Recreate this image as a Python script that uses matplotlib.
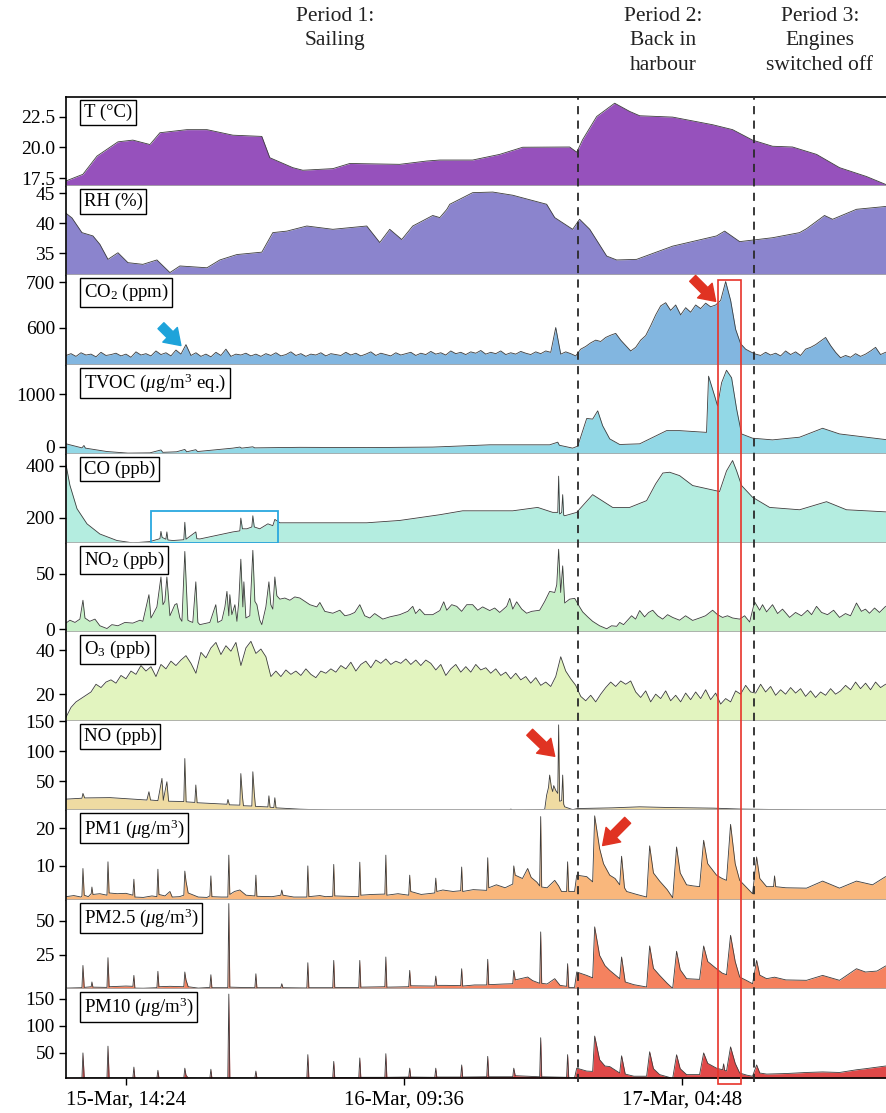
import numpy as np
import matplotlib.pyplot as plt
import matplotlib.transforms as mtransforms
from matplotlib.patches import Rectangle, FancyArrowPatch
from matplotlib.lines import Line2D

plt.rcParams['font.family'] = ['Liberation Serif', 'DejaVu Serif']
plt.rcParams['mathtext.fontset'] = 'custom'
plt.rcParams['mathtext.rm'] = 'Liberation Serif'
plt.rcParams['mathtext.it'] = 'Liberation Serif:italic'

# time in hours since 15-Mar 00:00
t_start, t_end = 10.26, 66.89
t_grid = np.linspace(t_start, t_end, 165)

t_T = [10.26, 11.43, 12.40, 13.85, 14.88, 16.06, 16.75, 18.61, 20.0, 21.79, 23.79, 24.34,
       25.93, 26.62, 28.70, 29.87, 33.32, 35.19, 36.09, 38.36, 40.23, 41.82, 45.06, 45.55,
       45.96, 46.93, 48.17, 49.21, 49.90, 52.18, 54.94, 56.32, 57.70, 59.08, 60.46, 62.12,
       63.71, 65.57, 66.89]
T = [17.28, 17.82, 19.3, 20.46, 20.6, 20.24, 21.2, 21.45, 21.45, 21.0, 20.9, 19.17,
     18.36, 18.15, 18.28, 18.7, 18.63, 18.9, 18.98, 18.98, 19.44, 20.02, 20.04, 19.62,
     20.64, 22.52, 23.6, 22.93, 22.58, 22.47, 21.85, 21.45, 20.6, 20.1, 20.04, 19.44,
     18.36, 17.64, 17.0]

t_RH = [10.26, 10.67, 11.36, 12.12, 12.60, 13.16, 13.85, 14.54, 15.57, 16.54, 17.44, 18.13,
        20.0, 20.89, 22.07, 23.79, 24.55, 25.52, 26.90, 28.70, 31.04, 31.94, 32.63, 33.46,
        34.22, 35.60, 36.09, 36.57, 36.78, 38.36, 39.75, 41.13, 43.47, 44.03, 45.27, 45.75,
        46.45, 47.62, 48.31, 49.69, 52.18, 55.21, 55.77, 56.81, 59.08, 60.95, 61.43, 62.67,
        63.23, 64.88, 66.89]
RH = [41.67, 40.9, 38.45, 37.9, 36.5, 34.0, 35.1, 33.45, 33.17, 33.9, 31.8, 32.9,
      32.6, 33.9, 34.8, 35.2, 38.45, 38.7, 39.55, 39.0, 39.55, 36.8, 39.0, 37.3,
      39.55, 41.3, 40.95, 42.3, 43.17, 45.1, 45.2, 44.67, 43.17, 40.95, 39.0, 40.67,
      39.0, 34.55, 33.9, 34.0, 36.2, 37.9, 38.7, 36.95, 37.6, 38.45, 39.1, 41.3,
      40.67, 42.33, 42.8]

CO2 = [538, 542, 536, 544, 539, 541, 535, 545, 538, 540,
       543, 537, 541, 534, 546, 539, 542, 537, 548, 540,
       544, 537, 550, 541, 562, 538, 544, 536, 541, 535,
       545, 538, 552, 536, 541, 539, 543, 537, 541, 536,
       542, 538, 544, 537, 540, 546, 538, 542, 536, 541,
       539, 544, 537, 542, 540, 538, 545, 539, 543, 537,
       541, 546, 538, 543, 540, 537, 544, 539, 542, 545,
       538, 543, 540, 547, 541, 544, 539, 548, 542, 545,
       540, 546, 543, 549, 541, 545, 542, 548, 540, 544,
       541, 547, 543, 540, 546, 542, 548, 545, 600, 541,
       546, 542, 537, 552, 558, 566, 572, 569, 578, 583,
       587, 572, 560, 548, 556, 572, 582, 604, 628, 648,
       655, 638, 650, 628, 644, 634, 650, 642, 654, 646,
       650, 660, 702, 660, 596, 564, 552, 546, 541, 538,
       545, 539, 543, 537, 548, 540, 546, 538, 552, 556,
       562, 570, 578, 560, 545, 533, 538, 534, 542, 536,
       541, 548, 556, 540, 545]

t_TVOC = [10.26, 11.36, 11.50, 11.60, 13.09, 14.54, 16.06, 16.82, 16.95, 17.90, 18.47, 18.60,
          19.23, 19.35, 21.79, 22.27, 22.40, 23.17, 23.30, 26.42, 31.04, 35.60, 36.09, 39.54,
          43.68, 44.24, 44.35, 45.27, 45.62, 46.24, 46.65, 47.00, 47.34, 47.83, 48.52, 49.90,
          51.76, 52.66, 54.52, 54.66, 55.08, 55.28, 55.56, 55.90, 56.25, 56.60, 56.94, 57.70,
          59.08, 60.95, 62.54, 63.71, 66.89]
TVOC = [57, -20, 25, -25, -90, -120, -115, -60, -105, -95, -50, -95,
        -55, -90, -25, -5, -25, 0, -20, -10, -15, -5, 0, 38,
        38, 88, 30, -25, 13, 540, 528, 685, 402, 151, 44, 57,
        308, 308, 275, 1345, 968, 779, 1220, 1458, 1315, 717, 245, 164,
        132, 183, 353, 245, 138]

t_CO = [10.26, 10.53, 11.02, 11.71, 12.60, 13.78, 14.88, 16.06, 16.75, 16.82, 16.90, 17.16,
        17.23, 17.30, 17.65, 18.40, 18.47, 18.55, 19.23, 19.30, 19.51, 21.79, 22.27, 22.34,
        22.45, 22.76, 23.10, 23.17, 23.27, 23.65, 24.21, 24.55, 24.69, 25.04, 26.42, 31.04,
        33.32, 36.09, 37.67, 41.13, 42.85, 43.89, 44.24, 44.30, 44.37, 44.51, 44.58, 44.65,
        44.72, 45.55, 46.65, 48.03, 49.21, 50.38, 51.00, 51.50, 51.97, 52.66, 53.56, 55.42,
        55.90, 56.32, 56.60, 56.94, 57.70, 58.88, 60.95, 62.81, 64.19, 66.89]
CO = [404, 325, 235, 177, 138, 113, 104, 109, 120, 148, 125, 118,
      146, 115, 113, 116, 183, 118, 146, 120, 119, 146, 150, 199,
      158, 158, 165, 208, 165, 158, 177, 170, 194, 181, 181, 181,
      190, 212, 227, 227, 240, 221, 221, 360, 215, 220, 289, 210,
      208, 221, 289, 240, 240, 266, 330, 372, 375, 362, 324, 301,
      380, 420, 380, 324, 279, 240, 231, 262, 231, 223]

t_NO2 = [10.26, 10.53, 10.88, 11.22, 11.43, 11.57, 11.90, 12.26, 12.60, 13.09, 13.43, 13.85,
         14.33, 14.88, 15.37, 15.57, 15.99, 16.13, 16.26, 16.54, 16.82, 16.96, 17.09, 17.23,
         17.44, 17.58, 17.78, 17.92, 18.13, 18.27, 18.47, 18.68, 18.82, 19.02, 19.23, 19.37,
         19.51, 19.85, 20.20, 20.61, 20.75, 21.03, 21.24, 21.38, 21.51, 21.58, 21.72, 21.93,
         22.07, 22.20, 22.34, 22.48, 22.55, 22.69, 22.96, 23.17, 23.31, 23.45, 23.65, 23.79,
         24.07, 24.28, 24.41, 24.55, 24.69, 24.83, 25.04, 25.38, 25.73, 26.07, 26.42, 26.76,
         27.11, 27.59, 27.80, 28.14, 28.70, 29.18, 29.53, 29.87, 30.21, 30.56, 30.90, 31.25,
         31.59, 32.15, 32.63, 33.32, 33.88, 34.22, 34.42, 34.70, 35.05, 35.60, 36.09, 36.36,
         36.57, 36.91, 37.26, 37.60, 37.95, 38.36, 38.71, 39.05, 39.54, 39.88, 40.23, 40.71,
         40.92, 41.13, 41.40, 41.75, 42.09, 42.44, 42.99, 43.34, 43.68, 44.03, 44.17, 44.30,
         44.44, 44.58, 44.72, 45.06, 45.41, 45.75, 45.96, 46.31, 46.65, 47.13, 47.62, 47.96,
         48.31, 48.52, 48.79, 49.00, 49.34, 49.62, 49.90, 50.24, 50.52, 50.80, 51.14, 51.49,
         51.83, 52.18, 52.66, 53.07, 53.56, 54.04, 54.45, 54.94, 55.28, 55.63, 55.97, 56.32,
         56.81, 57.15, 57.50, 57.84, 58.19, 58.39, 58.67, 59.08, 59.43, 59.77, 60.26, 60.67,
         61.08, 61.50, 61.78, 62.12, 62.47, 62.88, 63.30, 63.71, 64.12, 64.47, 64.88, 65.22,
         65.50, 65.78, 66.13, 66.47, 66.89]
NO2 = [5.4, 8, 6, 9, 26, 10, 7, 9, 3, 0.5, 4, 3,
       6, 5.4, 8, 7, 31, 10, 13, 20, 47, 22, 25, 47,
       12, 16, 22, 23, 10, 7, 70, 8, 7, 6, 42.6, 6,
       4, 5, 6, 22, 6, 8, 20, 34, 12, 31, 13, 22,
       7, 25, 63, 20, 42.6, 10, 12, 71, 25, 22, 8, 4,
       20, 42.6, 22, 18, 47, 30, 27, 28, 26, 29, 28, 25,
       22, 20, 24, 16, 14.3, 17, 12, 13, 15, 22, 12, 10,
       14, 9, 11, 13, 16, 20.5, 14, 18, 13, 13, 16.7, 24.6,
       17, 22, 20.5, 16, 22, 22, 17, 20, 16.7, 19, 15, 20.5,
       27.7, 18, 24.6, 18, 14.3, 16, 17, 25, 34, 33, 40, 72,
       33, 57, 23.5, 27, 27.7, 20, 15.5, 11, 7, 3, 0.3, 3,
       2.5, 6, 4, 7, 12, 9, 16.7, 11, 15, 17, 12, 9,
       13, 10.5, 8, 12, 7.8, 10, 12, 17, 13, 10.5, 12, 10,
       9, 12, 6.4, 24.6, 17, 22, 15.5, 22, 14, 18, 10.5, 15,
       12, 17, 13, 20.5, 15, 13, 17, 10.5, 14, 12, 23.5, 16,
       18, 14.3, 19, 15, 20.5]

O3 = [9.5, 14.0, 16.5, 18.0, 19.5, 21.0, 24.5, 23.0, 25.5, 26.5,
      25.0, 28.5, 27.0, 30.5, 29.0, 33.0, 30.5, 32.5, 28.0, 33.5,
      31.5, 35.0, 33.0, 35.5, 37.5, 34.0, 29.5, 39.0, 36.5, 41.0,
      43.5, 38.0, 42.0, 39.5, 43.5, 33.0, 41.0, 44.0, 38.5, 40.5,
      37.0, 28.0, 30.5, 28.0, 31.0, 29.0, 30.5, 28.5, 31.5, 29.0,
      27.5, 30.5, 29.5, 31.5, 30.0, 33.0, 31.5, 34.5, 30.5, 33.5,
      35.0, 32.0, 35.5, 34.0, 36.0, 33.5, 35.0, 34.0, 36.0, 33.5,
      35.5, 33.0, 35.5, 34.0, 31.0, 33.5, 28.5, 31.5, 33.5, 30.0,
      32.5, 30.0, 33.5, 31.0, 32.0, 29.5, 31.5, 28.5, 30.0, 27.0,
      29.5, 26.5, 28.0, 25.0, 27.5, 24.0, 25.5, 23.5, 28.0, 37.0,
      30.5, 27.0, 24.0, 19.0, 17.0, 19.5, 16.5, 20.0, 23.0, 25.5,
      23.5, 26.0, 24.5, 26.0, 21.0, 18.5, 21.5, 16.5, 20.0, 18.0,
      21.5, 17.0, 19.5, 16.5, 20.5, 17.5, 21.0, 18.0, 22.0, 17.5,
      20.5, 15.5, 18.0, 16.5, 21.5, 20.0, 24.0, 21.0, 20.5, 24.5,
      21.0, 23.5, 19.5, 22.0, 20.0, 23.0, 20.5, 22.5, 19.0, 21.5,
      18.5, 21.0, 19.5, 22.5, 20.0, 21.5, 24.0, 22.0, 25.5, 22.5,
      25.0, 22.0, 25.5, 23.0, 24.5]

t_NO = [10.26, 11.36, 11.43, 11.55, 13.30, 15.85, 15.99, 16.10, 16.61, 16.89, 16.98, 17.23,
        17.35, 18.40, 18.47, 18.56, 19.16, 19.23, 19.32, 21.38, 21.45, 21.55, 22.27, 22.34,
        22.45, 22.52, 23.10, 23.17, 23.27, 23.35, 24.21, 24.28, 24.36, 24.62, 24.69, 24.77,
        26.42, 28.70, 40.92, 41.00, 41.10, 43.20, 43.34, 43.47, 43.60, 43.68, 43.80, 43.89,
        43.96, 44.10, 44.24, 44.30, 44.37, 44.51, 44.58, 44.65, 44.72, 45.27, 45.62, 46.00,
        48.00, 49.90, 52.00, 55.00, 56.81, 60.00, 62.00, 66.89]
NO = [20.5, 22, 30, 22.5, 23, 19, 32.8, 19, 18, 55, 18.5, 49.4,
      17, 16.5, 88, 16, 15, 44, 14.5, 12, 20, 11, 10.5, 63,
      25, 9.5, 9, 66, 30, 8.5, 7.5, 26, 7, 6.5, 22.8, 6,
      3.8, 2.2, 2.2, 4, 2.2, 3, 3.8, 27, 40, 60.5, 40, 33,
      43, 35, 30, 144, 17, 18, 60.5, 12, 7.7, 3, 5, 5,
      6, 7.7, 6.5, 5.5, 4, 3, 2.2, 2.2]

t_PM1 = [10.26, 10.80, 11.30, 11.36, 11.43, 11.52, 11.80, 12.00, 12.05, 12.12, 12.60, 13.09,
         13.16, 13.24, 13.80, 14.40, 14.88, 14.95, 15.02, 15.60, 16.20, 16.54, 16.61, 16.68,
         17.10, 17.44, 17.60, 18.10, 18.40, 18.47, 18.55, 18.70, 19.40, 20.00, 20.20, 20.27,
         20.34, 21.00, 21.44, 21.51, 21.58, 21.90, 22.27, 22.70, 23.31, 23.38, 23.45, 24.50,
         25.10, 25.17, 25.25, 26.00, 26.90, 26.97, 27.04, 27.80, 28.20, 28.69, 28.76, 28.83,
         29.60, 30.49, 30.56, 30.63, 31.40, 32.29, 32.36, 32.43, 33.20, 33.94, 34.01, 34.08,
         34.80, 35.74, 35.81, 35.88, 36.30, 37.00, 37.53, 37.60, 37.67, 38.40, 39.33, 39.40,
         39.47, 40.00, 40.60, 41.13, 41.20, 41.30, 41.80, 42.16, 42.40, 42.80, 42.99, 43.06,
         43.13, 43.50, 44.03, 44.30, 44.50, 44.85, 44.92, 45.00, 45.40, 45.55, 46.24, 46.65,
         46.79, 47.13, 47.40, 47.83, 48.20, 48.52, 48.65, 48.85, 49.00, 49.70, 50.38, 50.59,
         50.85, 51.28, 51.80, 52.18, 52.45, 52.70, 53.14, 53.60, 54.04, 54.32, 54.60, 55.21,
         55.60, 55.90, 56.18, 56.50, 56.81, 57.30, 57.70, 57.98, 58.20, 58.67, 59.15, 59.22,
         59.30, 60.00, 61.43, 62.54, 63.71, 64.88, 65.99, 66.89]
PM1 = [1.6, 1.9, 1.5, 1.8, 9.2, 2.0, 1.6, 2.4, 4.2, 2.2, 2.4, 2.0,
       11.0, 2.6, 2.4, 2.5, 2.0, 6.3, 1.5, 1.4, 1.8, 1.6, 9.0, 2.2,
       1.8, 3.0, 1.5, 1.6, 2.0, 8.5, 5.8, 2.6, 1.5, 1.4, 1.8, 7.2,
       1.6, 1.5, 1.5, 12.8, 2.2, 3.0, 3.4, 2.0, 1.8, 7.4, 1.7, 1.6,
       2.0, 3.4, 2.0, 1.5, 1.5, 9.9, 1.6, 1.9, 1.6, 1.7, 10.3, 1.8,
       1.7, 1.6, 10.9, 2.0, 2.2, 2.3, 12.8, 2.0, 2.4, 2.0, 7.4, 3.0,
       2.2, 2.6, 6.6, 3.0, 3.4, 3.0, 3.2, 9.6, 3.0, 3.5, 3.3, 12.1,
       4.0, 4.8, 4.0, 5.0, 9.9, 7.4, 6.5, 9.2, 6.8, 5.5, 4.5, 23.2,
       4.2, 4.0, 6.0, 4.5, 3.0, 3.0, 11.0, 3.0, 3.0, 7.4, 7.0, 5.6,
       23.4, 14.6, 10.5, 7.4, 6.5, 4.8, 12.5, 4.0, 3.0, 2.2, 1.5, 15.3,
       8.0, 5.8, 3.5, 1.3, 15.0, 8.0, 4.8, 4.5, 4.3, 16.8, 10.5, 7.4,
       6.5, 6.0, 21.1, 10.5, 6.0, 4.0, 2.4, 12.3, 6.5, 4.3, 4.3, 7.2,
       4.3, 4.0, 3.9, 5.8, 3.9, 5.8, 4.8, 7.0]

t_PM25 = [10.26, 11.36, 11.43, 11.52, 12.00, 12.05, 12.12, 13.09, 13.16, 13.24, 14.40, 14.88,
          14.95, 15.02, 15.60, 16.54, 16.61, 16.68, 17.44, 18.40, 18.47, 18.55, 18.70, 19.40,
          20.20, 20.27, 20.34, 21.44, 21.51, 21.58, 22.30, 23.31, 23.38, 23.45, 25.10, 25.17,
          25.25, 26.90, 26.97, 27.04, 28.69, 28.76, 28.83, 30.49, 30.56, 30.63, 32.29, 32.36,
          32.43, 33.94, 34.01, 34.08, 35.74, 35.81, 35.88, 36.50, 37.53, 37.60, 37.67, 38.50,
          39.33, 39.40, 39.47, 40.50, 41.13, 41.20, 41.30, 42.16, 42.50, 42.99, 43.06, 43.13,
          43.50, 44.03, 44.40, 44.85, 44.92, 45.00, 45.40, 45.55, 46.24, 46.65, 46.79, 47.13,
          47.50, 47.83, 48.52, 48.65, 48.90, 49.50, 50.38, 50.59, 50.85, 51.28, 51.80, 52.18,
          52.45, 52.70, 53.14, 54.04, 54.32, 54.60, 55.21, 55.60, 55.90, 56.18, 56.50, 56.81,
          57.30, 57.70, 57.98, 58.20, 58.67, 59.22, 60.00, 61.43, 62.54, 63.71, 64.88, 65.50,
          66.30, 66.89]
PM25 = [0.5, 0.8, 17.1, 1.0, 1.5, 5.0, 1.2, 1.0, 22.8, 1.5, 2.0, 1.8,
        9.8, 0.5, 0.4, 0.8, 12.8, 1.5, 1.8, 1.5, 12.3, 6.5, 1.5, 0.5,
        1.0, 10.3, 0.8, 0.8, 62.5, 1.2, 1.0, 0.8, 11.0, 0.8, 0.8, 3.7,
        0.8, 0.6, 19.1, 0.8, 0.8, 20.8, 1.0, 0.9, 20.8, 1.2, 1.5, 23.3,
        1.2, 1.5, 13.5, 2.2, 2.0, 9.3, 2.5, 2.5, 2.3, 14.7, 2.0, 2.8,
        2.8, 21.6, 3.0, 3.5, 3.7, 13.5, 6.5, 8.6, 6.0, 4.0, 41.7, 4.0,
        3.5, 7.4, 2.5, 1.8, 18.4, 1.0, 1.0, 12.3, 9.8, 8.0, 45.4, 24.5,
        17.0, 13.5, 7.4, 23.3, 5.0, 3.0, 1.3, 31.4, 15.0, 9.8, 4.0, 0.3,
        27.5, 14.0, 7.4, 6.9, 31.4, 20.0, 14.7, 11.5, 10.3, 39.2, 20.0, 8.6,
        6.0, 3.7, 20.8, 10.0, 7.4, 8.5, 6.5, 6.2, 9.8, 6.2, 14.7, 12.3,
        13.0, 16.7]

t_PM10 = [10.26, 11.36, 11.43, 11.52, 13.09, 13.16, 13.24, 14.88, 14.95, 15.02, 16.54, 16.61,
          16.68, 18.40, 18.47, 18.55, 18.70, 20.20, 20.27, 20.34, 21.44, 21.51, 21.58, 23.31,
          23.38, 23.45, 25.00, 26.90, 26.97, 27.04, 28.69, 28.76, 28.83, 30.49, 30.56, 30.63,
          32.29, 32.36, 32.43, 33.94, 34.01, 34.08, 35.74, 35.81, 35.88, 37.53, 37.60, 37.67,
          39.33, 39.40, 39.47, 41.13, 41.20, 41.30, 42.99, 43.06, 43.13, 44.85, 44.92, 45.00,
          45.40, 45.55, 46.24, 46.65, 46.79, 47.13, 47.50, 47.83, 48.52, 48.65, 48.90, 49.50,
          50.38, 50.59, 50.85, 51.28, 51.80, 52.18, 52.45, 52.70, 53.14, 54.04, 54.32, 54.60,
          55.21, 55.63, 55.70, 55.77, 55.90, 56.18, 56.50, 56.81, 57.30, 57.70, 57.98, 58.20,
          58.67, 60.00, 61.43, 62.54, 63.71, 64.88, 65.50, 66.89]
PM10 = [2.2, 2.5, 49.4, 3.0, 3.0, 62, 3.0, 2.8, 23, 2.5, 2.5, 17,
        3.0, 3.0, 21, 8, 3.0, 2.5, 19, 2.5, 2.5, 159, 3, 2.8,
        15.6, 2.8, 2.5, 3.0, 46.2, 3.0, 3.0, 33.6, 3.5, 3.5, 40, 4.0,
        4.0, 48, 4.0, 4.5, 21, 4.5, 4.0, 21, 4.5, 4.5, 27, 4.5,
        5, 43, 5, 5, 21, 7, 5, 77.7, 5, 4, 46.2, 3,
        3, 21, 15.6, 15, 80.8, 36.8, 25, 24, 12, 44, 10, 6,
        6, 51.5, 20, 9, 5, 2, 46, 20, 9, 9, 49.4, 30,
        21, 18, 29, 17, 15.6, 60.7, 30, 12, 8, 6, 27, 12,
        10, 11, 13, 14, 13, 18, 20, 25]

labels = ['T (°C)', 'RH (%)', 'CO$_2$ (ppm)', 'TVOC ($\\mu$g/m$^3$ eq.)', 'CO (ppb)',
          'NO$_2$ (ppb)', 'O$_3$ (ppb)', 'NO (ppb)', 'PM1 ($\\mu$g/m$^3$)',
          'PM2.5 ($\\mu$g/m$^3$)', 'PM10 ($\\mu$g/m$^3$)']
colors = ['#9651bc', '#8b84cd', '#82b6e0', '#92d8e6', '#b4ede0', '#c8f0c8',
          '#e2f4bf', '#efdba2', '#f9b77c', '#f5825f', '#e04848']
ylims = [(16.85, 24.1), (31.33, 46.17), (517.8, 715.6), (-132, 1566), (103.8, 446),
         (-2.7, 77.7), (7.7, 48.2), (1.7, 150), (0.81, 24.86), (0, 65.4), (2.8, 168.9)]
yticks = [[17.5, 20.0, 22.5], [35, 40, 45], [600, 700], [0, 1000], [200, 400],
          [0, 50], [20, 40], [50, 100, 150], [10, 20], [25, 50], [50, 100, 150]]
ytick_labels = [['17.5', '20.0', '22.5'], ['35', '40', '45'], ['600', '700'], ['0', '1000'],
                ['200', '400'], ['0', '50'], ['20', '40'], ['50', '100', '150'],
                ['10', '20'], ['25', '50'], ['50', '100', '150']]

series = [(t_T, T), (t_RH, RH), (t_grid, CO2), (t_TVOC, TVOC), (t_CO, CO), (t_NO2, NO2),
          (t_grid, O3), (t_NO, NO), (t_PM1, PM1), (t_PM25, PM25), (t_PM10, PM10)]

xtick_pos = [14.4, 33.6, 52.8]
xtick_lab = ['15-Mar, 14:24', '16-Mar, 09:36', '17-Mar, 04:48']
period_lines = [45.62, 57.77]
red_box = (55.28, 56.87)

fig = plt.figure(figsize=(8.86, 11.13), dpi=100)
axes = fig.subplots(11, 1, sharex=True, gridspec_kw=dict(hspace=0))
fig.subplots_adjust(left=0.0745, right=0.9995, top=0.9128, bottom=0.0315)

for i, ax in enumerate(axes):
    t, v = series[i]
    lo, hi = ylims[i]
    ax.fill_between(t, v, lo, color=colors[i], lw=0)
    ax.plot(t, v, color='#3c3c3c', lw=0.6)
    ax.set_ylim(lo, hi)
    ax.set_xlim(t_start, t_end)
    ax.set_yticks(yticks[i])
    ax.set_yticklabels(ytick_labels[i])
    ax.tick_params(axis='y', direction='out', length=5, width=1, labelsize=14, pad=3)
    ax.spines['right'].set_visible(False)
    ax.spines['left'].set_linewidth(1.2)
    if i > 0:
        ax.spines['top'].set_visible(False)
    else:
        ax.spines['top'].set_linewidth(1.2)
    if i < 10:
        ax.spines['bottom'].set_color('#a8a8a8')
        ax.spines['bottom'].set_linewidth(1.2)
        ax.tick_params(axis='x', bottom=False)
    else:
        ax.spines['bottom'].set_linewidth(1.2)
    ax.text(0.0215, 0.925, labels[i], transform=ax.transAxes, ha='left', va='top',
            fontsize=13.5, zorder=6,
            bbox=dict(boxstyle='square,pad=0.2', fc='white', ec='black', lw=1))

axes[-1].set_xticks(xtick_pos)
axes[-1].set_xticklabels(xtick_lab)
axes[-1].tick_params(axis='x', direction='out', length=5, width=1, labelsize=15, pad=4)

# dashed period separators and the red highlight box, spanning all panels
blend = mtransforms.blended_transform_factory(axes[-1].transData, fig.transFigure)
for xl in period_lines:
    fig.add_artist(Line2D([xl, xl], [0.0275, 0.9128], transform=blend, color='#2a2a2a',
                          lw=1.3, ls=(0, (4.5, 3.5)), zorder=10))
fig.add_artist(Rectangle((red_box[0], 0.026), red_box[1] - red_box[0], 0.7484 - 0.026,
                         transform=blend, fill=False, ec='#e8342a', lw=1.2, zorder=10))

# cyan box in CO panel
axes[4].add_patch(Rectangle((16.13, 103), 24.9 - 16.13, 227 - 103, fill=False,
                            ec='#2aa8df', lw=1.3, clip_on=False, zorder=5))

arrow_style = 'simple,head_width=1.35,head_length=1.0,tail_width=0.55'
arrows = [(axes[2], (16.82, 604), (18.2, 560), '#1ea3da'),
          (axes[2], (53.56, 709), (55.15, 658), '#e03322'),
          (axes[7], (42.30, 131.7), (44.03, 91.7), '#e03322'),
          (axes[8], (49.07, 22.2), (47.34, 15.4), '#e03322')]
for ax, a, b, c in arrows:
    ax.add_patch(FancyArrowPatch(a, b, arrowstyle=arrow_style, mutation_scale=11,
                                 color=c, shrinkA=0, shrinkB=0, clip_on=False, zorder=7))

periods = [(335, 'Period 1:\nSailing'), (663, 'Period 2:\nBack in\nharbour'),
           (820, 'Period 3:\nEngines\nswitched off')]
for px, txt in periods:
    fig.text(px / 886, 1 - 7 / 1113, txt, ha='center', va='top', fontsize=15.5,
             linespacing=1.38, color='#222222')

fig.savefig('out.png', dpi=100)
